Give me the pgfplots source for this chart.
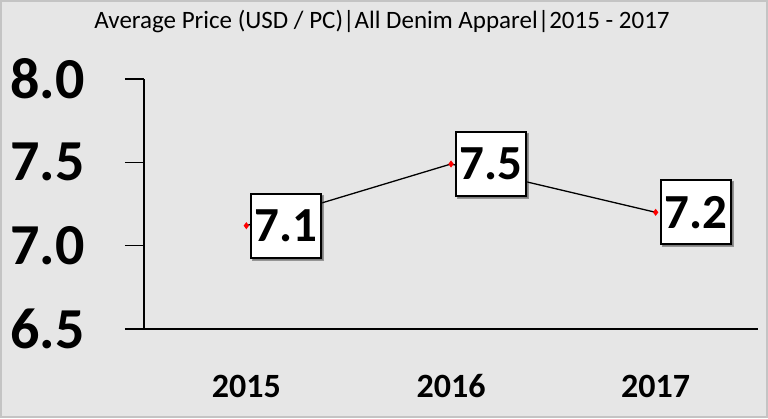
\documentclass[border=0pt]{standalone}
\usepackage{fontspec}
\setmainfont{Carlito}
\usepackage{pgfplots}
\pgfplotsset{compat=1.18}
\usetikzlibrary{shadows}
\definecolor{bg}{HTML}{E6E6E6}
\definecolor{frame}{HTML}{C4C4C4}
\begin{document}
\begin{tikzpicture}
\fill[bg] (0,0) rectangle (768pt,418pt);
\draw[frame, line width=2pt] (1pt,1pt) rectangle (767pt,417pt);
\node[anchor=base, inner sep=0pt, font=\fontsize{25}{28}\selectfont] at (382pt,389pt) {Average Price (USD / PC)|All Denim Apparel|2015 - 2017};
\begin{axis}[
  at={(144pt,89pt)}, anchor=south west,
  scale only axis, width=614pt, height=250pt,
  xmin=-0.5, xmax=2.5, ymin=6.5, ymax=8.0,
  axis lines*=left,
  axis line style={line width=1.2pt, black},
  xtick={0,1,2}, xticklabels={2015,2016,2017},
  x tick style={draw=none},
  ytick={6.5,7.0,7.5,8.0},
  y tick style={line width=1.2pt, black},
  tick align=outside, major tick length=19pt,
  /pgf/number format/assume math mode=true,
  yticklabel={\pgfmathprintnumber[fixed,precision=1,fixed zerofill]{\tick}},
  yticklabel style={font=\fontsize{58}{60}\selectfont\bfseries, anchor=east, inner sep=0pt, xshift=-40pt},
  xticklabel style={font=\fontsize{34}{36}\selectfont\bfseries, anchor=base, inner sep=0pt, yshift=-49pt},
  clip=false,
]
\addplot[black, line width=1.3pt, mark=diamond*, mark size=2.5pt, mark options={red, fill=red},
  nodes near coords={\pgfmathprintnumber[fixed,precision=1,fixed zerofill]{\pgfplotspointmeta}},
  every node near coord/.append style={anchor=west, xshift=4pt, draw=black, text=black, fill=white,
    line width=2pt, minimum width=70pt, minimum height=64pt, inner sep=2pt,
    font=\fontsize{49}{50}\selectfont\bfseries,
    drop shadow={shadow xshift=2pt, shadow yshift=-2pt, opacity=0.35}}]
  coordinates {(0,7.12) (1,7.49) (2,7.20)};
\end{axis}
\end{tikzpicture}
\end{document}
